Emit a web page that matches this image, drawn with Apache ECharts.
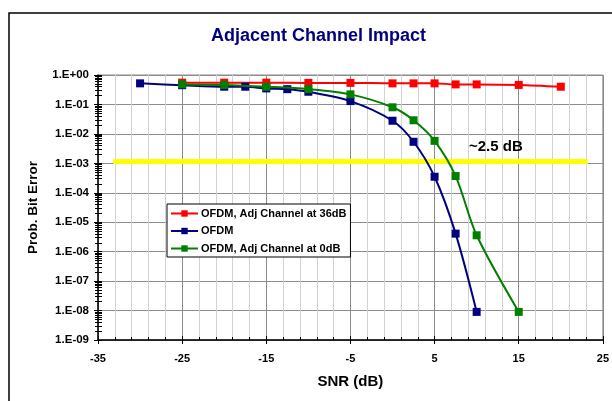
<!DOCTYPE html>
<html>
<head>
<meta charset="utf-8">
<script src="https://cdn.jsdelivr.net/npm/echarts@6/dist/echarts.min.js"></script>
<style>html,body{margin:0;padding:0;background:#fff;}#c{width:612px;height:401px;}</style>
</head>
<body>
<div id="c"></div>
<script>
// ---- data ----
const snrRed = [-25, -20, -15, -10, -5, 0, 2.5, 5, 7.5, 10, 15, 20];
const berRed = [0.55, 0.55, 0.55, 0.54, 0.54, 0.52, 0.52, 0.52, 0.48, 0.48, 0.46, 0.40];
const snrBlue = [-30, -25, -20, -17.5, -15, -12.5, -10, -5, 0, 2.5, 5, 7.5, 10];
const berBlue = [0.52, 0.45, 0.40, 0.40, 0.35, 0.33, 0.27, 0.13, 0.028, 0.0054, 0.00035, 0.0000041, 0.0000000090];
const snrGreen = [-25, -20, -15, -10, -5, 0, 2.5, 5, 7.5, 10, 15];
const berGreen = [0.48, 0.46, 0.40, 0.33, 0.22, 0.080, 0.029, 0.0058, 0.00037, 0.0000036, 0.0000000090];
const refLineX = [-33.2, 23.2];
const refLineY = [0.00115, 0.00115];
const seriesNames = ['OFDM, Adj Channel at 36dB', 'OFDM', 'OFDM, Adj Channel at 0dB'];
const xTickLabels = ['-35', '-25', '-15', '-5', '5', '15', '25'];
const yTickLabels = ['1.E-09','1.E-08','1.E-07','1.E-06','1.E-05','1.E-04','1.E-03','1.E-02','1.E-01','1.E+00'];
const yMajor = [1e-9,1e-8,1e-7,1e-6,1e-5,1e-4,1e-3,1e-2,1e-1,1];
const yMinorMult = [2,3,4,5,6,7,8,9];
// ----------------

const yMinor = [];
yMajor.slice(0, -1).forEach(d => yMinorMult.forEach(m => yMinor.push(+(d * m).toPrecision(3))));
const pairs = (xs, ys) => xs.map((x, i) => [x, ys[i]]);
const font = 'Arial, "Liberation Sans", sans-serif';
const yLabelOf = v => {
  let best = 0, bd = Infinity;
  yMajor.forEach((m, i) => { const d = Math.abs(Math.log10(v) - Math.log10(m)); if (d < bd) { bd = d; best = i; } });
  return yTickLabels[best];
};
const xLabelOf = v => { const s = String(Math.round(v)); return xTickLabels.includes(s) ? s : ''; };

const chart = echarts.init(document.getElementById('c'), null, {renderer: 'canvas'});
const baseLog = {type: 'log', logBase: 10, min: 1e-9, max: 1, gridIndex: 0};
chart.setOption({
  animation: false,
  backgroundColor: '#fff',
  title: {
    text: 'Adjacent Channel Impact', left: 206, top: 22,
    textStyle: {fontFamily: font, fontSize: 18, fontWeight: 'bold', color: '#000080'}
  },
  graphic: [
    {type: 'rect', shape: {x: 9, y: 13, width: 700, height: 500}, style: {fill: 'none', stroke: '#000', lineWidth: 1.5}, z: 100},
    {type: 'text', left: 469, top: 139, style: {text: '~2.5 dB', font: 'bold 15px ' + font, fill: '#000'}, z: 100}
  ],
  legend: {
    data: seriesNames, orient: 'vertical', left: 167, top: 204,
    itemWidth: 27, itemHeight: 8, itemGap: 6.5, padding: [4, 4, 3, 3],
    backgroundColor: '#fff', borderColor: '#000', borderWidth: 1,
    textStyle: {fontFamily: font, fontSize: 11, fontWeight: 'bold', color: '#000', padding: [0,0,0,-2]},
    z: 50
  },
  grid: {left: 98, right: 9, top: 75, bottom: 61, show: true, borderColor: '#888', borderWidth: 1},
  xAxis: [
    {
      type: 'value', min: -35, max: 25, interval: 10, position: 'bottom',
      name: 'SNR (dB)', nameLocation: 'middle', nameGap: 34,
      nameTextStyle: {fontFamily: font, fontSize: 15, fontWeight: 'bold', color: '#000'},
      axisLine: {show: true, onZero: false, lineStyle: {color: '#000', width: 1.5}},
      axisTick: {show: true, inside: false, length: 4, lineStyle: {color: '#000'}},
      axisLabel: {formatter: xLabelOf, fontFamily: font, fontSize: 11, fontWeight: 'bold', color: '#000', margin: 13},
      splitLine: {show: true, lineStyle: {color: '#8c8c8c', width: 1}},
      minorSplitLine: {show: true, lineStyle: {color: '#d2d2d2', width: 1}},
      minorTick: {show: false, splitNumber: 5}
    },
    {
      type: 'value', min: -35, max: 25, interval: 10, position: 'bottom', offset: 0,
      axisLine: {show: false, onZero: false},
      axisTick: {show: true, inside: true, length: 4, lineStyle: {color: '#000'}},
      minorTick: {show: true, splitNumber: 5, length: 3, lineStyle: {color: '#000'}},
      axisLabel: {show: false}, splitLine: {show: false}
    }
  ],
  yAxis: [
    Object.assign({}, baseLog, {
      position: 'left',
      name: 'Prob. Bit Error', nameLocation: 'middle', nameGap: 58,
      nameTextStyle: {fontFamily: font, fontSize: 13.5, fontWeight: 'bold', color: '#000'},
      axisLine: {show: true, onZero: false, lineStyle: {color: '#000', width: 1.5}},
      axisTick: {show: true, inside: false, length: 4, lineStyle: {color: '#000'}},
      axisLabel: {formatter: yLabelOf, fontFamily: font, fontSize: 11.5, fontWeight: 'bold', color: '#000', margin: 9},
      splitLine: {show: true, lineStyle: {color: '#8c8c8c', width: 1}}
    }),
    Object.assign({}, baseLog, {
      position: 'left', offset: 0,
      axisLine: {show: false, onZero: false}, axisLabel: {show: false}, splitLine: {show: false},
      axisTick: {show: true, inside: false, length: 3, customValues: yMinor, lineStyle: {color: '#000'}}
    }),
    Object.assign({}, baseLog, {
      position: 'left', offset: 0,
      axisLine: {show: false, onZero: false}, axisLabel: {show: false}, splitLine: {show: false},
      axisTick: {show: true, inside: true, length: 4, customValues: yMinor.concat(yMajor), lineStyle: {color: '#000'}}
    })
  ],
  series: [
    {
      name: 'ref', type: 'line', data: pairs(refLineX, refLineY), symbol: 'none',
      lineStyle: {color: '#ffff00', width: 5}, silent: true, z: 1
    },
    {
      name: seriesNames[0], type: 'line', data: pairs(snrRed, berRed), smooth: 0.3,
      symbol: 'rect', symbolSize: 8, color: '#ff0000', lineStyle: {width: 2, color: '#ff0000'},
      itemStyle: {color: '#ff0000'}, z: 3
    },
    {
      name: seriesNames[1], type: 'line', data: pairs(snrBlue, berBlue), smooth: 0.3,
      symbol: 'rect', symbolSize: 8, color: '#000080', lineStyle: {width: 2, color: '#000080'},
      itemStyle: {color: '#000080'}, z: 4
    },
    {
      name: seriesNames[2], type: 'line', data: pairs(snrGreen, berGreen), smooth: 0.3,
      symbol: 'rect', symbolSize: 8, color: '#008000', lineStyle: {width: 2, color: '#008000'},
      itemStyle: {color: '#008000'}, z: 5
    }
  ]
});
</script>
</body>
</html>
